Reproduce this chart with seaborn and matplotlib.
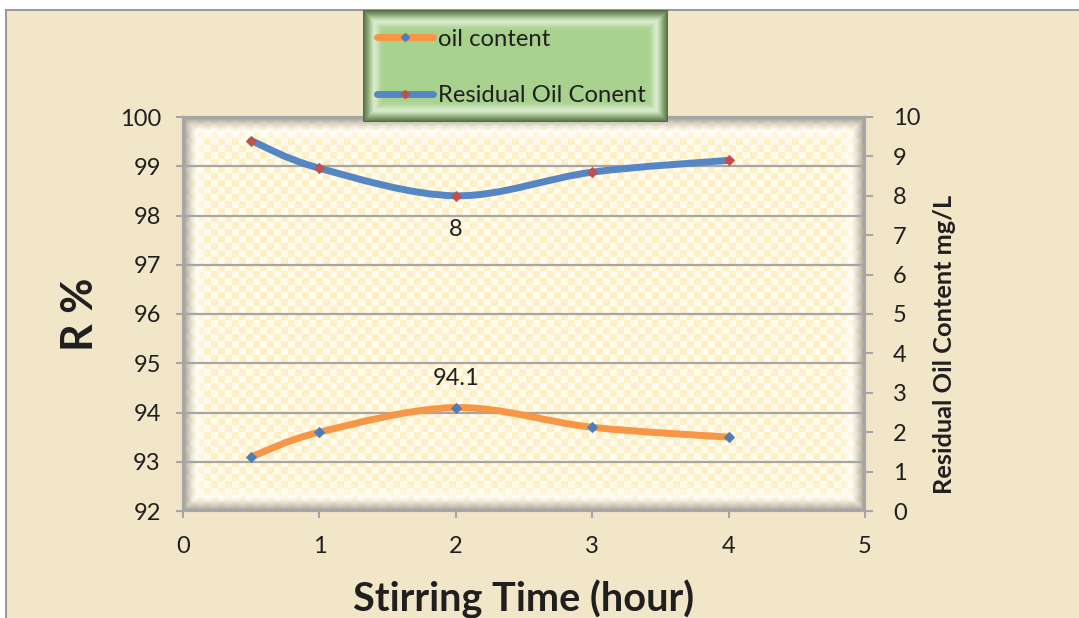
import numpy as np
import matplotlib
matplotlib.use("Agg")
import matplotlib.pyplot as plt
from matplotlib.path import Path
from matplotlib.patches import PathPatch, Rectangle
from matplotlib.lines import Line2D
import seaborn as sns

# Stirring time (hour) and measurements
hours = [0.5, 1, 2, 3, 4]
removal_pct = [93.1, 93.6, 94.1, 93.7, 93.5]        # R %  (left axis)
residual_oil = [9.4, 8.7, 8.0, 8.6, 8.9]            # mg/L (right axis)

series_names = ["oil content", "Residual Oil Conent"]
x_ticks = [0, 1, 2, 3, 4, 5]
left_ticks = [92, 93, 94, 95, 96, 97, 98, 99, 100]
right_ticks = [0, 1, 2, 3, 4, 5, 6, 7, 8, 9, 10]

ORANGE = "#f79646"
BLUE = "#5587c6"
MARK_BLUE = "#4a7ebb"
MARK_RED = "#c0504d"
GRID = "#a6a6a6"
TEXT = "#1f1f1f"
BEIGE = "#f2e6c9"

sns.set_theme(style="white")
plt.rcParams["font.family"] = ["Lato", "DejaVu Sans"]

W_PX, H_PX = 1079, 618
fig = plt.figure(figsize=(W_PX / 100, H_PX / 100), dpi=100)
fig.patch.set_facecolor("white")

# chart-area backdrop with its grey frame
fig.patches.append(Rectangle((6 / W_PX, -0.05), 1.1, (H_PX - 10) / H_PX + 0.05,
                             transform=fig.transFigure, facecolor=BEIGE,
                             edgecolor="#9c9c9c", lw=1.5, zorder=-20))


def smooth_path(xs, ys):
    """Cubic Bezier path through the points (Catmull-Rom style tangents)."""
    pts = np.column_stack([xs, ys]).astype(float)
    n = len(pts)
    verts, codes = [pts[0]], [Path.MOVETO]
    for i in range(n - 1):
        p0 = pts[max(i - 1, 0)]
        p1 = pts[i]
        p2 = pts[i + 1]
        p3 = pts[min(i + 2, n - 1)]
        verts += [p1 + (p2 - p0) / 6, p2 - (p3 - p1) / 6, p2]
        codes += [Path.CURVE4] * 3
    return Path(verts, codes)


def panel_texture(w, h, cell, c1, c2, edge, depth, strength):
    yy, xx = np.mgrid[0:h, 0:w]
    chk = ((xx // cell + yy // cell) % 2)[..., None]
    img = np.where(chk == 0, np.array(c1), np.array(c2)).astype(float)
    d = np.minimum.reduce([xx, yy, w - 1 - xx, h - 1 - yy]).astype(float)
    glow = (np.exp(-((d - depth) / (depth * 0.45)) ** 2) * 0.55)[..., None]
    img = img * (1 - glow) + glow
    s = (np.clip(1 - d / depth, 0, 1) ** 1.6 * strength)[..., None]
    img = img * (1 - s) + np.array(edge) * s
    return np.clip(img, 0, 1)


# plot area
ax_l, ax_r, ax_t, ax_b = 183, 865, 117, 511
ax = fig.add_axes([ax_l / W_PX, 1 - ax_b / H_PX, (ax_r - ax_l) / W_PX, (ax_b - ax_t) / H_PX])
ax.set_facecolor("none")
tex = panel_texture(ax_r - ax_l, ax_b - ax_t, 7,
                    (1.0, 0.94, 0.78), (1.0, 0.985, 0.93),
                    (0.55, 0.55, 0.55), 14, 0.85)
ax.imshow(tex, extent=(0, 5, 92, 100), aspect="auto", zorder=0,
          interpolation="bilinear", origin="upper")

ax.set_xlim(0, 5)
ax.set_ylim(92, 100)
ax.set_xticks(x_ticks)
ax.set_yticks(left_ticks)
ax.grid(axis="y", color=GRID, lw=1.6, zorder=1)
ax.grid(axis="x", visible=False)
ax.set_axisbelow(False)
for sp in ax.spines.values():
    sp.set_color(GRID)
    sp.set_linewidth(1.5)
    sp.set_zorder(2)

ax.add_patch(PathPatch(smooth_path(hours, removal_pct), facecolor="none",
                       edgecolor=ORANGE, lw=5, capstyle="round", zorder=3))
sns.scatterplot(x=hours, y=removal_pct, ax=ax, marker="D", s=28,
                color=MARK_BLUE, edgecolor=MARK_BLUE, linewidth=0.5, zorder=4, legend=False)
ax.annotate(f"{removal_pct[2]:g}", (hours[2], removal_pct[2]), xytext=(0, 21),
            textcoords="offset points", ha="center", va="center",
            fontsize=17, color=TEXT, zorder=5)

ax2 = ax.twinx()
ax2.set_ylim(0, 10)
ax2.set_yticks(right_ticks)
ax2.grid(False)
for sp in ax2.spines.values():
    sp.set_color(GRID)
    sp.set_linewidth(1.5)
ax2.add_patch(PathPatch(smooth_path(hours, residual_oil), facecolor="none",
                        edgecolor=BLUE, lw=5, capstyle="round", zorder=3))
sns.scatterplot(x=hours, y=residual_oil, ax=ax2, marker="D", s=28,
                color=MARK_RED, edgecolor=MARK_RED, linewidth=0.5, zorder=4, legend=False)
ax2.annotate(f"{residual_oil[2]:g}", (hours[2], residual_oil[2]), xytext=(0, -24),
             textcoords="offset points", ha="center", va="center",
             fontsize=17, color=TEXT, zorder=5)

ax.tick_params(axis="x", bottom=True, direction="out", length=5, width=1.5,
               color=GRID, labelsize=17, labelcolor=TEXT, pad=13)
ax.tick_params(axis="y", left=True, direction="out", length=5, width=1.5,
               color=GRID, labelsize=17, labelcolor=TEXT, pad=11)
ax2.tick_params(axis="y", right=True, direction="out", length=6, width=1.5,
                color=GRID, labelsize=17, labelcolor=TEXT, pad=14)

ax.set_xlabel("Stirring Time (hour)", fontsize=28.5, fontweight="bold", color=TEXT)
ax.xaxis.set_label_coords(0.5, -0.175)
ax.set_ylabel("R %", fontsize=31, fontweight="bold", color=TEXT)
ax.yaxis.set_label_coords(-0.122, 0.5)
ax2.set_ylabel("Residual Oil Content mg/L", fontsize=18.3, fontweight="bold", color=TEXT)
ax2.yaxis.set_label_coords(1.099, 0.422)

# legend panel
lg_l, lg_r, lg_t, lg_b = 363, 668, 10, 122
lax = fig.add_axes([lg_l / W_PX, 1 - lg_b / H_PX, (lg_r - lg_l) / W_PX, (lg_b - lg_t) / H_PX],
                   zorder=6)
green = panel_texture(lg_r - lg_l, lg_b - lg_t, 1000,
                      (0.663, 0.82, 0.557), (0.663, 0.82, 0.557),
                      (0.28, 0.36, 0.24), 11, 0.85)
lax.imshow(green, aspect="auto", extent=(0, 1, 0, 1), interpolation="bilinear")
lax.axis("off")

handles = [
    Line2D([0], [0], color=ORANGE, lw=5, marker="D", ms=4.5, mfc=MARK_BLUE, mec=MARK_BLUE),
    Line2D([0], [0], color=BLUE, lw=5, marker="D", ms=4.5, mfc=MARK_RED, mec=MARK_RED),
]
leg = fig.legend(handles, series_names, loc="center left",
                 bbox_to_anchor=(377 / W_PX, 1 - 67.5 / H_PX), frameon=False,
                 fontsize=17.2, handlelength=2.35, handletextpad=0.2, labelspacing=1.5,
                 borderpad=0, borderaxespad=0, numpoints=1, labelcolor=TEXT)
leg.set_zorder(10)

fig.savefig("out.png", dpi=100)
